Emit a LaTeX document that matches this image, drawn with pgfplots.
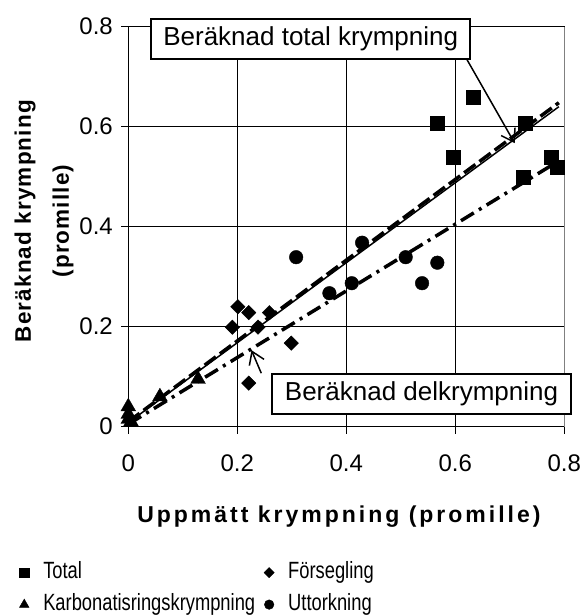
\documentclass[border=0pt]{standalone}
\usepackage{fontspec}
\setmainfont{Liberation Sans}
\newfontfamily\legfont[FakeStretch=0.78]{Liberation Sans}
\newfontfamily\xlabfont[LetterSpace=13]{Liberation Sans}
\newfontfamily\ylabfont[LetterSpace=5]{Liberation Sans}
\usepackage{pgfplots}
\pgfplotsset{compat=1.18}
\usetikzlibrary{arrows.meta}
\begin{document}
\begin{tikzpicture}
\useasboundingbox (-128.3bp,-188.3bp) rectangle (454.7bp,426.7bp);
\begin{axis}[
  at={(0,0)}, anchor=south west,
  scale only axis, width=436bp, height=400bp,
  xmin=0, xmax=0.8, ymin=0, ymax=0.8,
  xtick={0,0.2,0.4,0.6,0.8}, ytick={0,0.2,0.4,0.6,0.8},
  grid=major, major grid style={black, line width=0.8bp},
  axis line style={black, line width=0.8bp},
  tick align=outside, major tick length=7bp,
  xtick pos=left, ytick pos=left,
  tick style={black, line width=0.8bp},
  tick label style={font=\fontsize{24bp}{28bp}\selectfont},
  /pgf/number format/assume math mode=true,
  xticklabel style={yshift=-18bp},
  yticklabel style={xshift=-5bp},
  xlabel={Uppmätt krympning (promille)},
  xlabel style={font=\xlabfont\bfseries\fontsize{23bp}{27bp}\selectfont, at={(axis description cs:0.483,-0.226)}, anchor=center},
  ylabel={Beräknad krympning\\(promille)},
  ylabel style={align=center, font=\ylabfont\bfseries\fontsize{22.5bp}{38bp}\selectfont, at={(axis description cs:-0.193,0.514)}, anchor=center},
  clip=false,
  legend columns=2,
  legend cell align=left,
  legend style={at={(axis description cs:-0.262,-0.328)}, anchor=north west, draw=none, fill=none,
    font=\legfont\fontsize{23.5bp}{27bp}\selectfont, column sep=4bp, row sep=7bp,
    nodes={inner sep=3bp, text height=15bp, text depth=4bp},
    legend image code/.code={\path[draw=none,fill=none] (0bp,0bp) -- (19bp,0bp);\draw[mark repeat=2,mark phase=2,#1] plot coordinates {(0bp,0bp) (7bp,0bp) (14bp,0bp)};}},
]
% fitted lines
\addplot[forget plot, black, line width=1.5bp] coordinates {(0,0.008) (0.79,0.64)};
\addplot[forget plot, black, line width=3.5bp, dash pattern=on 14bp off 5bp] coordinates {(0,0.01) (0.79,0.648)};
\addplot[forget plot, black, line width=3.5bp, dash pattern=on 15bp off 6bp on 3bp off 6bp] coordinates {(0,0.005) (0.78,0.525)};
% data
\addplot[only marks, black, mark=square*, mark size=7bp, legend image post style={mark size=4.8bp}] coordinates {
(0.567,0.607) (0.633,0.66) (0.596,0.539) (0.729,0.607) (0.724,0.499) (0.776,0.539) (0.787,0.519)};
\addlegendentry{Total}
\addplot[only marks, black, mark=square*, mark options={rotate=45}, mark size=5.1bp, legend image post style={mark size=3.6bp}] coordinates {
(0.201,0.24) (0.221,0.228) (0.191,0.199) (0.259,0.228) (0.238,0.199) (0.299,0.167) (0.221,0.087)};
\addlegendentry{Försegling}
\addplot[only marks, black, mark=triangle*, mark size=8.5bp, legend image post style={mark size=5.5bp}] coordinates {
(0,0.04) (0,0.025) (0,0.015) (0.005,0.01) (0.058,0.06) (0.128,0.095)};
\addlegendentry{Karbonatisringskrympning}
\addplot[only marks, black, mark=*, mark size=6.8bp, legend image post style={mark size=4.8bp}] coordinates {
(0.308,0.339) (0.429,0.368) (0.369,0.267) (0.41,0.287) (0.509,0.339) (0.539,0.287) (0.567,0.328)};
\addlegendentry{Uttorkning}
% right border (grey, as in the reference)
\draw[gray, line width=1.2bp] (rel axis cs:1,0) -- (rel axis cs:1,1);
% annotations
\draw[black, line width=1.5bp, -{Straight Barb[length=12bp,width=16bp]}] (axis cs:0.621,0.735) -- (axis cs:0.709,0.567);
\draw[black, line width=1.5bp, -{Straight Barb[length=12bp,width=16bp]}] (axis cs:0.244,0.107) -- (axis cs:0.226,0.153);
\node[draw=black, line width=1.5bp, fill=white, minimum width=319bp, minimum height=40bp, inner sep=0pt, font=\fontsize{26bp}{30bp}\selectfont] at (axis cs:0.3347,0.775) {Beräknad total krympning};
\node[draw=black, line width=1.5bp, fill=white, minimum width=299bp, minimum height=40bp, inner sep=0pt, font=\fontsize{26bp}{30bp}\selectfont] at (axis cs:0.538,0.0654) {Beräknad delkrympning};
\end{axis}
\end{tikzpicture}
\end{document}
